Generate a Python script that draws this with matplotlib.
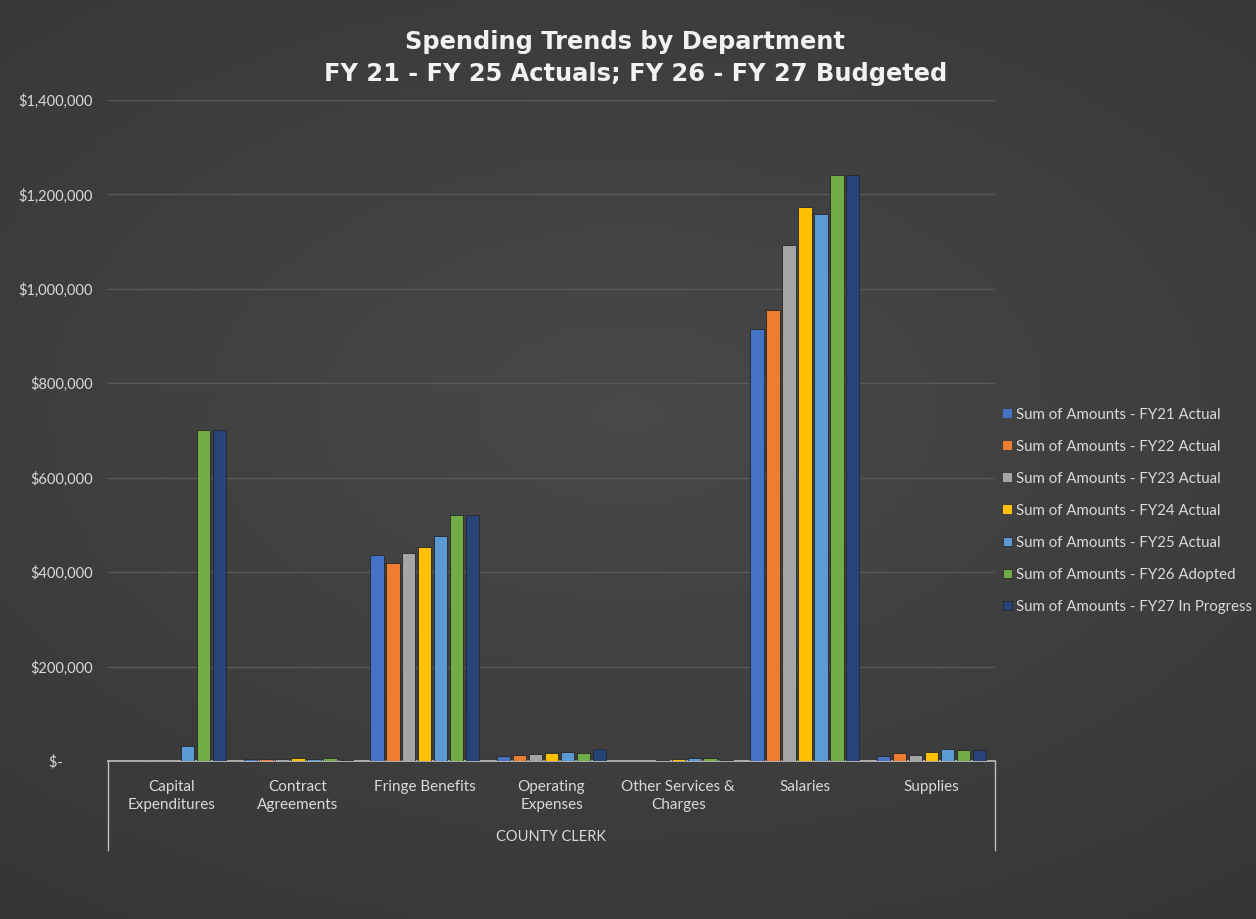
import numpy as np
import matplotlib
matplotlib.use('Agg')
import matplotlib.pyplot as plt
from matplotlib.ticker import FuncFormatter

plt.rcParams['font.family'] = ['Lato', 'DejaVu Sans']

categories = ['Capital\nExpenditures', 'Contract\nAgreements', 'Fringe Benefits',
              'Operating\nExpenses', 'Other Services &\nCharges', 'Salaries', 'Supplies']
series_names = ['Sum of Amounts - FY21 Actual', 'Sum of Amounts - FY22 Actual',
                'Sum of Amounts - FY23 Actual', 'Sum of Amounts - FY24 Actual',
                'Sum of Amounts - FY25 Actual', 'Sum of Amounts - FY26 Adopted',
                'Sum of Amounts - FY27 In Progress']
colors = ['#4472C4', '#ED7D31', '#A5A5A5', '#FFC000', '#5B9BD5', '#70AD47', '#264478']

fy21 = [0, 5000, 436000, 10000, 1000, 915000, 10000]
fy22 = [0, 4000, 419000, 13000, 1000, 955000, 16000]
fy23 = [0, 4000, 440000, 14000, 3000, 1093000, 12000]
fy24 = [0, 6000, 453000, 16000, 5000, 1174000, 20000]
fy25 = [32000, 5000, 476000, 20000, 6000, 1158000, 25000]
fy26 = [700000, 6000, 521000, 18000, 7000, 1241000, 23000]
fy27 = [700000, 3000, 521000, 25000, 3000, 1241000, 24000]
values = [fy21, fy22, fy23, fy24, fy25, fy26, fy27]

W, H = 1256, 919
fig = plt.figure(figsize=(W / 100, H / 100), dpi=100)
fig.patch.set_facecolor('#3a3a3a')

# soft radial background, dark gray centre fading to darker edges
bg = fig.add_axes([0, 0, 1, 1], zorder=-10)
yy, xx = np.mgrid[0:1:200j, 0:1:200j]
r = np.sqrt((xx - 0.5) ** 2 + ((yy - 0.45) * 1.2) ** 2)
g = np.clip(0.285 - 0.09 * r, 0, 1)
bg.imshow(np.dstack([g, g, g]), aspect='auto', extent=[0, 1, 0, 1])
bg.set_axis_off()

ax = fig.add_axes([108 / W, 1 - 761 / H, (995 - 108) / W, (761 - 100) / H])
ax.set_facecolor('none')

x = np.arange(len(categories))
slot = 0.126
bw = 0.105
for i, (name, vals) in enumerate(zip(series_names, values)):
    ax.bar(x + (i - 3) * slot, vals, width=bw, color=colors[i], label=name,
           edgecolor='#262626', linewidth=[0.6 if v else 0 for v in vals], zorder=3)

ax.set_xlim(-0.5, len(categories) - 0.5)
ax.set_ylim(0, 1400000)
ax.set_yticks(np.arange(0, 1400001, 200000))
ax.yaxis.set_major_formatter(FuncFormatter(lambda v, p: '$-        ' if v == 0 else f'${v:,.0f}'))
ax.grid(axis='y', color='#5a5a5a', linewidth=1, zorder=0)
for s in ['top', 'right', 'left']:
    ax.spines[s].set_visible(False)
ax.spines['bottom'].set_color('#bfbfbf')
ax.spines['bottom'].set_linewidth(1.2)
ax.spines['bottom'].set_zorder(2)
ax.tick_params(axis='y', length=0, labelsize=10.5, labelcolor='#d9d9d9', pad=11)
ax.set_xticks(x)
ax.set_xticklabels(categories, fontsize=11, color='#d9d9d9', linespacing=1.3)
ax.tick_params(axis='x', length=0, pad=14)

# outer category group lines
for xe in [0, 1]:
    ax.plot([xe, xe], [0, -0.135], transform=ax.transAxes, color='#bfbfbf',
            linewidth=1, clip_on=False)
ax.text(0.5, -0.115, 'COUNTY CLERK', transform=ax.transAxes, ha='center', va='center',
        fontsize=10.5, color='#d9d9d9')

for xp, yp, t in [(625, 42, 'Spending Trends by Department'),
                  (636, 74, 'FY 21 - FY 25 Actuals; FY 26 - FY 27 Budgeted')]:
    fig.text(xp / W, 1 - yp / H, t, ha='center', va='center', fontsize=17.4,
             fontweight='bold', color='#f2f2f2', family=['DejaVu Sans'])

leg = fig.legend(loc='upper left', bbox_to_anchor=(997 / W, 1 - 402 / H), frameon=False,
                 fontsize=10.8, labelcolor='#d9d9d9', handlelength=0.6, handleheight=0.6,
                 handletextpad=0.3, labelspacing=1.2, borderaxespad=0)

fig.savefig('out.png', dpi=100, facecolor=fig.get_facecolor())
